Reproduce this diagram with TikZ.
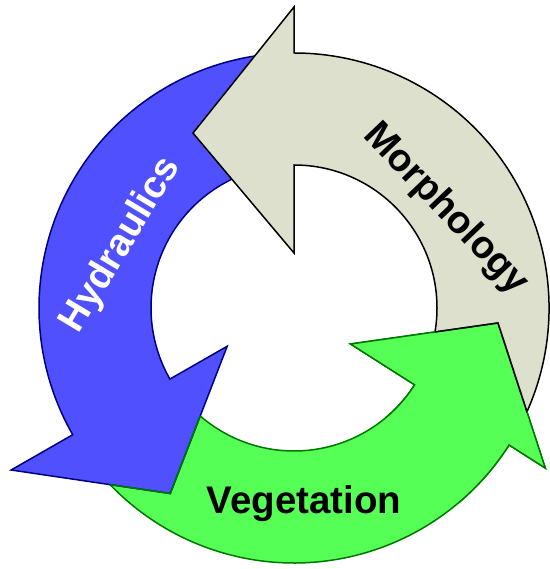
\documentclass[tikz,border=0pt]{standalone}
\usepackage{fontspec}
\setmainfont{Liberation Sans}
\definecolor{bfill}{RGB}{80,80,255}
\definecolor{bline}{RGB}{0,0,128}
\definecolor{gfill}{RGB}{85,255,85}
\definecolor{gline}{RGB}{0,120,0}
\definecolor{yfill}{RGB}{221,224,204}
\def\Ro{255pt}
\def\Ri{143pt}
% #1 start angle, #2 back angle, #3 head inner r, #4 head outer r, #5 tip angle, #6 tip r
\newcommand\circarrow[6]{(#1:\Ro) arc[start angle=#1, end angle=#2, radius=\Ro] -- (#2:#4) -- (#5:#6) -- (#2:#3) -- (#2:\Ri) arc[start angle=#2, end angle=#1, radius=\Ri] -- cycle}
\newcommand\Bpath{\circarrow{95}{209.8}{77pt}{326pt}{236.3}{223pt}}
\newcommand\Gpath{\circarrow{217}{327.5}{67pt}{298pt}{355.8}{204.5pt}}
\newcommand\Ypath{\circarrow{-27}{90}{55pt}{301pt}{120}{202pt}}
\tikzset{
  lbl/.style={font=\fontsize{38.5}{40}\selectfont\bfseries, inner sep=0pt},
  arr/.style={line width=1.5pt, line join=miter}
}
\begin{document}
\begin{tikzpicture}
\useasboundingbox (-294pt,-261pt) rectangle (255pt,308pt);
% green arrow (Vegetation)
\draw[arr, fill=gfill, draw=gline] \Gpath;
% blue arrow (Hydraulics)
\draw[arr, fill=bfill, draw=bline] \Bpath;
\begin{scope}
  \clip \Gpath;
  \draw[arr, draw=gline] \Bpath;
\end{scope}
% gray arrow (Morphology)
\draw[arr, fill=yfill, draw=black] \Ypath;
% green head over gray tail
\begin{scope}
  \clip (0,0) -- (310:360pt) arc[start angle=310, end angle=365, radius=360pt] -- cycle;
  \draw[arr, fill=gfill, draw=gline] \Gpath;
  \clip \Ypath;
  \draw[arr, draw=black] \Gpath;
\end{scope}
% labels
\node[lbl, text=white, rotate=59] (hyd) at (-173pt,63pt) {Hydraulics};
\node[lbl, text=black, rotate=-46.4] (mor) at (151.5pt,99pt) {Morphology};
\node[lbl, text=black, anchor=base] (veg) at (10pt,-205pt) {Vegetation};
\end{tikzpicture}
\end{document}
